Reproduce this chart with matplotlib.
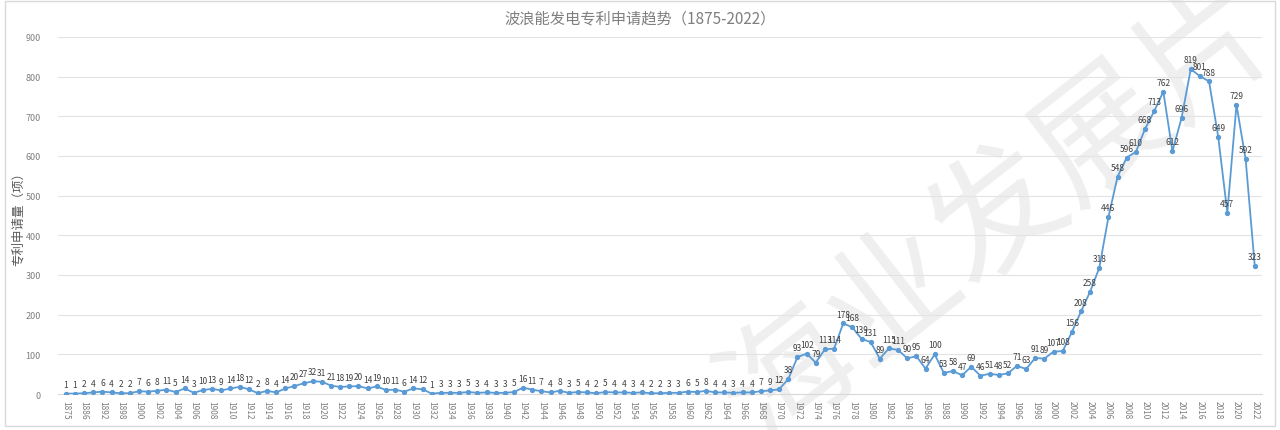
import matplotlib
matplotlib.use('Agg')
import matplotlib.pyplot as plt
from matplotlib.patches import Rectangle

plt.rcParams['font.family'] = ['Noto Sans CJK SC', 'DejaVu Sans']

# years (early years are sparse, then every year from 1898)
years = [1875, 1880, 1886, 1890, 1892, 1895, 1898, 1899] + list(range(1900, 2023))

counts = [1, 1, 2, 4, 6, 4, 2, 2,
          7, 6, 8, 11, 5, 14, 3, 10, 13, 9,
          14, 18, 12, 2, 8, 4, 14, 20, 27, 32,
          31, 21, 18, 19, 20, 14, 19, 10, 11, 6,
          14, 12, 1, 3, 3, 3, 5, 3, 4, 3,
          3, 5, 16, 11, 7, 4, 8, 3, 5, 4,
          2, 5, 4, 4, 3, 4, 2, 2, 3, 3,
          6, 5, 8, 4, 4, 3, 4, 4, 7, 9,
          12, 38, 93, 102, 79, 113, 114, 178, 168, 139,
          131, 89, 115, 111, 90, 95, 64, 100, 53, 58,
          47, 69, 46, 51, 48, 52, 71, 63, 91, 89,
          107, 108, 156, 208, 258, 318, 446, 548, 596, 610,
          668, 713, 762, 612, 696, 819, 801, 788, 649, 457,
          729, 592, 323]

yticks = list(range(0, 1000, 100))

fig = plt.figure(figsize=(12.8, 4.31), dpi=100)
# light frame around the chart area
fig.patches.append(Rectangle((0.004, 0.01), 0.992, 0.985, transform=fig.transFigure,
                             fill=False, edgecolor='#d9d9d9', linewidth=1))

# faint watermark behind the chart
fig.text(0.78, 0.5, '海业发展片', fontsize=95, color='#efefef', rotation=38,
         fontweight='light', ha='center', va='center', zorder=0)

ax = fig.add_axes([0.045, 0.0835, 0.941, 0.8285])
ax.set_zorder(2)
ax.patch.set_alpha(0)

x = list(range(len(years)))
ax.plot(x, counts, color='#5B9BD5', linewidth=1.3, marker='o', markersize=2.8, zorder=3)

for xi, v in zip(x, counts):
    ax.annotate(str(v), (xi, v), xytext=(0, 3.5), textcoords='offset points',
                ha='center', va='bottom', fontsize=6, color='#404040', zorder=4)

ax.set_xlim(-0.9, len(years) - 0.2)
ax.set_ylim(0, 900)
ax.set_yticks(yticks)
ax.grid(axis='y', color='#e3e3e3', linewidth=0.8)
ax.set_axisbelow(True)

ax.set_xticks(x[::2])
ax.set_xticklabels([str(y) for y in years[::2]], rotation=-90, fontsize=6, color='#7f7f7f')
ax.tick_params(axis='y', labelsize=6.5, labelcolor='#7f7f7f', length=0, pad=12)
ax.tick_params(axis='x', length=0, pad=4)

for s in ['top', 'right', 'left']:
    ax.spines[s].set_visible(False)
ax.spines['bottom'].set_color('#d9d9d9')

ax.set_ylabel('专利申请量（项）', fontsize=9, color='#595959', labelpad=4)
ax.yaxis.set_label_coords(-0.027, 0.5)
fig.text(0.5, 0.955, '波浪能发电专利申请趋势（1875-2022）', ha='center', va='center',
         fontsize=11, color='#7f7f7f')

plt.savefig('out.png', dpi=100)
